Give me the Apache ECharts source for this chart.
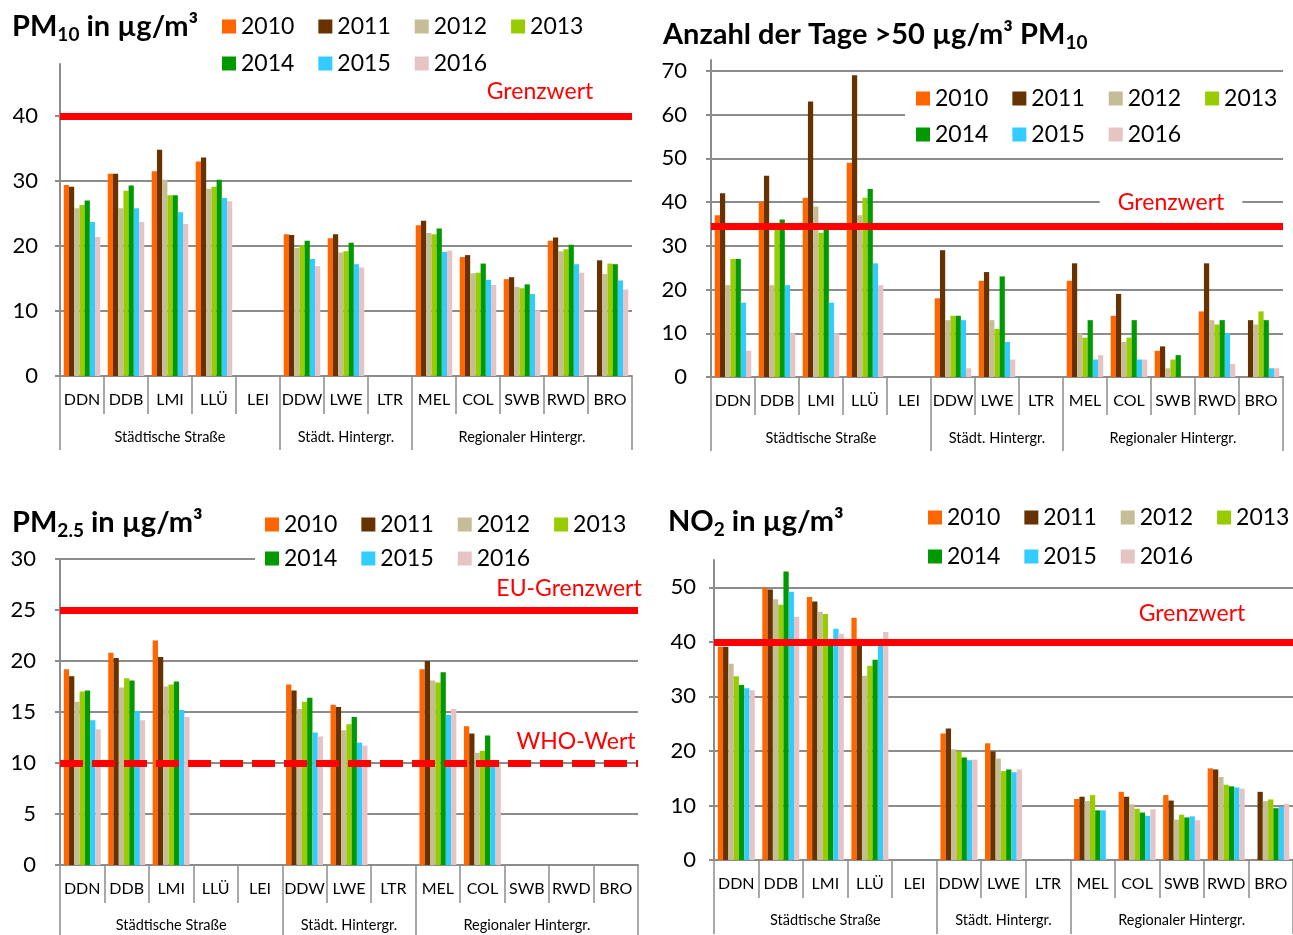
<!DOCTYPE html>
<html>
<head>
<meta charset="utf-8">
<script src="https://cdn.jsdelivr.net/npm/echarts@6/dist/echarts.min.js"></script>
<style>
html, body { margin: 0; padding: 0; background: #fff; }
#chart { width: 1293px; height: 935px; }
</style>
</head>
<body>
<div id="chart"></div>
<script>
const stations = ['DDN', 'DDB', 'LMI', 'LLÜ', 'LEI', 'DDW', 'LWE', 'LTR', 'MEL', 'COL', 'SWB', 'RWD', 'BRO'];
// group label sits under the middle station of each group
const groupLabels = { 2: 'Städtische Straße', 6: 'Städt. Hintergr.', 10: 'Regionaler Hintergr.' };
const groupStarts = [0, 5, 8];
const years = ['2010', '2011', '2012', '2013', '2014', '2015', '2016'];
const colors = ['#FF6600', '#663300', '#C4BD97', '#99CC00', '#009900', '#33CCFF', '#E6C4C4'];

// PM10 Jahresmittel, one row per year
const pm10 = [
    [29.4, 31.1, 31.5, 33.0, null, 21.8, 21.2, null, 23.2, 18.3, 14.9, 20.8, null],
    [29.1, 31.1, 34.8, 33.6, null, 21.7, 21.8, null, 23.9, 18.6, 15.2, 21.3, 17.8],
    [25.8, 25.8, 30.2, 28.8, null, 19.7, 19.0, null, 22.0, 15.8, 13.7, 19.2, 15.7],
    [26.3, 28.5, 27.8, 29.1, null, 20.1, 19.2, null, 21.8, 15.9, 13.5, 19.5, 17.3],
    [27.0, 29.3, 27.8, 30.2, null, 20.8, 20.5, null, 22.7, 17.3, 14.1, 20.2, 17.2],
    [23.7, 25.8, 25.2, 27.4, null, 18.0, 17.2, null, 19.1, 14.8, 12.6, 17.2, 14.7],
    [21.4, 23.7, 23.4, 26.9, null, 16.9, 16.7, null, 19.3, 14.0, 10.1, 15.9, 13.3]
];

// Tage > 50 µg/m³ PM10
const tage = [
    [37, 40, 41, 49, null, 18, 22, null, 22, 14, 6, 15, null],
    [42, 46, 63, 69, null, 29, 24, null, 26, 19, 7, 26, 13],
    [21, 21, 39, 37, null, 13, 13, null, 10, 8, 2, 13, 12],
    [27, 34, 33, 41, null, 14, 11, null, 9, 9, 4, 12, 15],
    [27, 36, 34, 43, null, 14, 23, null, 13, 13, 5, 13, 13],
    [17, 21, 17, 26, null, 13, 8, null, 4, 4, null, 10, 2],
    [6, 10, 10, 21, null, 2, 4, null, 5, 4, null, 3, 2]
];

// PM2.5 Jahresmittel
const pm25 = [
    [19.2, 20.8, 22.0, null, null, 17.7, 15.7, null, 19.2, 13.6, null, null, null],
    [18.5, 20.3, 20.4, null, null, 17.1, 15.5, null, 20.0, 12.9, null, null, null],
    [16.0, 17.4, 17.5, null, null, 15.3, 13.2, null, 18.1, 11.0, null, null, null],
    [17.0, 18.3, 17.7, null, null, 16.0, 13.8, null, 17.9, 11.2, null, null, null],
    [17.1, 18.1, 18.0, null, null, 16.4, 14.5, null, 18.9, 12.7, null, null, null],
    [14.2, 15.1, 15.2, null, null, 13.0, 12.0, null, 14.7, 10.1, null, null, null],
    [13.3, 14.2, 14.5, null, null, 12.6, 11.7, null, 15.3, 9.9, null, null, null]
];

// NO2 Jahresmittel
const no2 = [
    [39.1, 49.9, 48.2, 44.4, null, 23.2, 21.4, null, 11.2, 12.5, 11.9, 16.8, null],
    [39.1, 49.6, 47.4, 40.0, null, 24.1, 19.9, null, 11.6, 11.6, 10.9, 16.6, 12.5],
    [36.0, 47.8, 45.5, 33.8, null, 20.3, 18.6, null, 10.8, 10.2, 7.4, 15.2, 10.8],
    [33.7, 46.8, 45.1, 35.6, null, 19.9, 16.3, null, 11.9, 9.4, 8.3, 13.8, 11.1],
    [32.1, 52.9, 40.5, 36.7, null, 18.8, 16.6, null, 9.1, 8.7, 7.8, 13.5, 9.5],
    [31.5, 49.2, 42.4, 39.6, null, 18.3, 16.1, null, 9.1, 8.1, 8.0, 13.3, 9.7],
    [31.1, 44.6, 41.5, 41.8, null, 18.4, 16.6, null, null, 9.3, 7.3, 13.1, 10.3]
];

const FONT = 'Lato, "Open Sans", sans-serif';
const GRAY = '#8c8c8c';
const RED = '#FF0000';

const panels = [
    { data: pm10, box: { left: 60, top: 64, width: 572, height: 312 }, max: 48, step: 10, hideMax: true, yMargin: 22,
      catMargin: 16, grpMargin: 54, refs: [{ v: 40 }] },
    { data: tage, box: { left: 711, top: 60, width: 572, height: 317 }, max: 72.5, step: 10, hideMax: true, yMargin: 24,
      catMargin: 16, grpMargin: 54, refs: [{ v: 34.4 }] },
    { data: pm25, box: { left: 60, top: 559, width: 578, height: 306 }, max: 30, step: 5, hideMax: false, yMargin: 24,
      catMargin: 16, grpMargin: 53, refs: [{ v: 25 }, { v: 10, dashed: true }] },
    { data: no2, box: { left: 714, top: 560, width: 579, height: 300 }, max: 55, step: 10, hideMax: true, yMargin: 18,
      catMargin: 16, grpMargin: 53, refs: [{ v: 40 }] }
];

const grid = [], xAxis = [], yAxis = [], series = [];

panels.forEach((p, i) => {
    const g = i * 2, sep = i * 2 + 1;
    grid.push(Object.assign({ outerBoundsMode: 'none' }, p.box));
    // thin grid under the plot, only for the long group separators and group names
    grid.push({ outerBoundsMode: 'none', left: p.box.left, width: p.box.width, top: p.box.top + p.box.height, height: 80 });

    xAxis.push({
        type: 'category', gridIndex: g, data: stations,
        axisLine: { lineStyle: { color: GRAY, width: 2 } },
        axisTick: { show: true, interval: 0, length: 38, lineStyle: { color: GRAY, width: 1.5 } },
        axisLabel: { interval: 0, margin: p.catMargin, fontSize: 16, color: '#000', fontFamily: FONT }
    });
    xAxis.push({
        type: 'category', gridIndex: sep, position: 'top', data: stations,
        axisLine: { show: false, onZero: false },
        axisTick: { show: true, inside: true, length: 74, interval: idx => groupStarts.includes(idx),
            lineStyle: { color: GRAY, width: 1.5 } },
        axisLabel: { interval: 0, inside: true, margin: p.grpMargin, fontSize: 14.5, color: '#000', fontFamily: FONT,
            formatter: (v, idx) => groupLabels[idx] || '' }
    });

    yAxis.push({
        type: 'value', gridIndex: g, min: 0, max: p.max, interval: p.step,
        axisLine: { show: true, lineStyle: { color: GRAY, width: 2 } },
        axisTick: { show: true, length: 5, lineStyle: { color: GRAY, width: 2 } },
        splitLine: { lineStyle: { color: GRAY, width: 2 }, showMaxLine: !p.hideMax },
        axisLabel: { fontSize: 22, color: '#000', fontFamily: FONT, margin: p.yMargin, showMaxLabel: !p.hideMax }
    });
    yAxis.push({ type: 'value', gridIndex: sep, show: false });

    years.forEach((y, k) => {
        const s = {
            type: 'bar', name: y, xAxisIndex: g, yAxisIndex: g, data: p.data[k],
            barGap: '0%', barCategoryGap: '17%',
            itemStyle: { color: colors[k] },
            emphasis: { disabled: true }
        };
        if (k === 0) {
            s.markLine = {
                silent: true, symbol: 'none', label: { show: false }, z: 10,
                lineStyle: { color: RED, width: 7, type: 'solid', opacity: 1 },
                data: p.refs.map(r => ({
                    yAxis: r.v,
                    lineStyle: { color: RED, width: 7, type: r.dashed ? [23, 9] : 'solid' }
                }))
            };
        }
        series.push(s);
    });
});

function legend(names, left, top) {
    return {
        data: names, left: left, top: top, padding: 0, icon: 'rect', z: 6,
        itemWidth: 14, itemHeight: 14, itemGap: 24, selectedMode: false,
        textStyle: { fontSize: 23, color: '#000', fontFamily: FONT }
    };
}

const first = years.slice(0, 4), second = years.slice(4);

function title(parts, left, top) {
    return {
        text: parts, left: left, top: top, padding: 0,
        textStyle: {
            rich: {
                b: { fontSize: 29, fontWeight: 'bold', fontFamily: FONT, color: '#000', lineHeight: 34 },
                s: { fontSize: 19, fontWeight: 'bold', fontFamily: FONT, color: '#000', lineHeight: 12, verticalAlign: 'bottom' }
            }
        }
    };
}

function note(text, x, y, bg) {
    return {
        type: 'text', x: x, y: y, z: 20,
        style: {
            text: text, fill: RED, fontSize: 23, fontFamily: FONT, align: 'center', verticalAlign: 'middle',
            backgroundColor: bg ? '#fff' : null, padding: bg ? [2, 18] : 0
        }
    };
}

// white patches behind the legends where they sit on a grid line
function patch(x, y, w, h) {
    return { type: 'rect', z: 5, silent: true, shape: { x: x, y: y, width: w, height: h }, style: { fill: '#fff' } };
}

const option = {
    animation: false,
    backgroundColor: '#fff',
    title: [
        title('{b|PM}{s|10}{b| in µg/m³}', 12, 10),
        title('{b|Anzahl der Tage >50 µg/m³ PM}{s|10}', 663, 18),
        title('{b|PM}{s|2.5}{b| in µg/m³}', 12, 506),
        title('{b|NO}{s|2}{b| in µg/m³}', 668, 505)
    ],
    legend: [
        legend(first, 222, 15),
        legend(second, 222, 52),
        legend(first, 916, 87),
        legend(second, 916, 123),
        legend(first, 265, 513),
        legend(second, 265, 547),
        legend(first, 928, 506),
        legend(second, 928, 545)
    ],
    grid: grid,
    xAxis: xAxis,
    yAxis: yAxis,
    series: series,
    graphic: [
        patch(905, 110, 388, 40),
        patch(255, 545, 386, 28),
        note('Grenzwert', 540, 92),
        note('Grenzwert', 1171, 203, true),
        note('EU-Grenzwert', 569, 589),
        note('WHO-Wert', 576, 742),
        note('Grenzwert', 1192, 614)
    ]
};

echarts.init(document.getElementById('chart')).setOption(option);
</script>
</body>
</html>
